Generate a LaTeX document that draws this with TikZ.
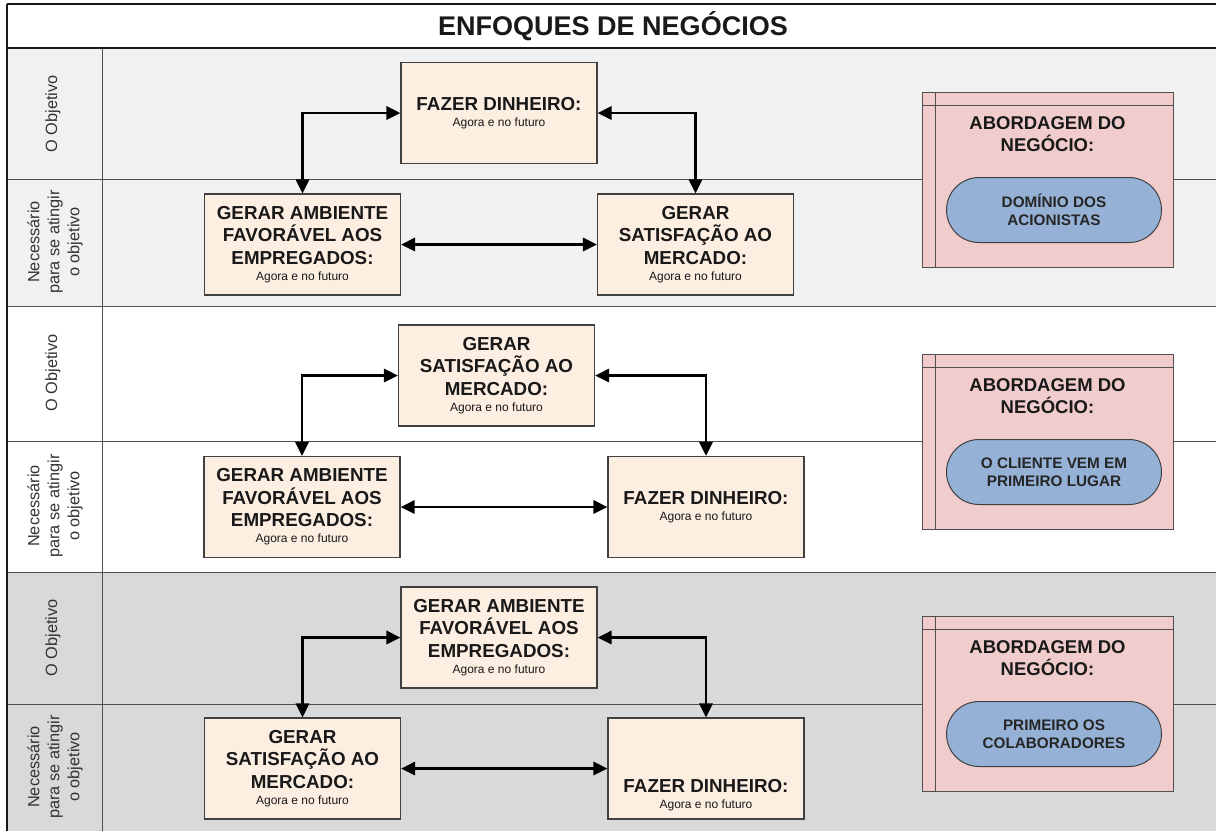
\documentclass[tikz,border=0pt]{standalone}
\usepackage{fontspec}
\setmainfont{Liberation Sans}
\usetikzlibrary{arrows.meta,shapes.misc}
\definecolor{bandA}{RGB}{241,241,241}
\definecolor{bandC}{RGB}{217,217,217}
\definecolor{boxfill}{RGB}{253,238,226}
\definecolor{boxline}{RGB}{64,64,64}
\definecolor{panelfill}{RGB}{240,205,204}
\definecolor{pillfill}{RGB}{149,177,214}
\definecolor{divline}{RGB}{80,80,80}
\newcommand\agoratxt{{\fontsize{12}{14}\selectfont\mdseries Agora e no futuro}}
\begin{document}
\begin{tikzpicture}[x=1pt,y=-1pt,
  bizbox/.style={draw=boxline,line width=1.1pt,fill=boxfill,minimum width=196pt,minimum height=101pt,inner sep=0pt,align=center,font=\bfseries\fontsize{18.8}{22.5}\selectfont,text=black!90},
  boxtext/.style={inner sep=0pt,align=center,font=\bfseries\fontsize{18.8}{22.5}\selectfont,text=black!90},
  arr/.style={line width=2.8pt,{Triangle[length=14pt,width=13pt]}-{Triangle[length=14pt,width=13pt]}},
  panel/.style={draw=divline,line width=1pt,fill=panelfill,minimum width=251pt,minimum height=175pt,inner sep=0pt},
  ptitle/.style={align=center,inner sep=0pt,font=\bfseries\fontsize{18.5}{22}\selectfont,text=black!90},
  pill/.style={rounded rectangle,draw=boxline,line width=1pt,fill=pillfill,minimum width=215pt,minimum height=65pt,inner sep=0pt,align=center,font=\bfseries\fontsize{15.3}{18}\selectfont,text=black!85},
  lbl/.style={rotate=90,align=center,inner sep=0pt,font=\fontsize{16.3}{20}\selectfont,text=black!80},
  divider/.style={draw=divline,line width=1pt},
  frame/.style={draw=black!90,line width=1.3pt}]
\useasboundingbox (0,0) rectangle (1216,831);
\clip (0,0) rectangle (1216,831);
% backgrounds
\fill[white] (0,0) rectangle (1216,831);
\fill[bandA] (7,48) rectangle (1216,306);
\fill[white] (7,306) rectangle (1216,572);
\fill[bandC] (7,572) rectangle (1216,831);
% grid lines
\foreach \yy in {179,306,441,572,704} \draw[divider] (7,\yy) -- (1216,\yy);
\draw[divider] (102,48) -- (102,831);
\draw[frame] (7,4) -- (1216,4);
\draw[frame] (7,4) -- (7,831);
\draw[frame] (7,48) -- (1216,48);
% title
\node[font=\bfseries\fontsize{27}{32}\selectfont,text=black!90] (title) at (613,26) {ENFOQUES DE NEGÓCIOS};
% left labels
\node[lbl] (o1) at (53,114) {O Objetivo};
\node[lbl] (n1) at (55,242) {Necessário\\para se atingir\\o objetivo};
\node[lbl] (o2) at (53,373) {O Objetivo};
\node[lbl] (n2) at (55,506) {Necessário\\para se atingir\\o objetivo};
\node[lbl] (o3) at (53,638) {O Objetivo};
\node[lbl] (n3) at (55,767) {Necessário\\para se atingir\\o objetivo};
% band 1
\node[bizbox] (b1t) at (499,113) {FAZER DINHEIRO:\\[-6.5pt]\agoratxt};
\node[bizbox] (b1l) at (302.5,244.5) {GERAR AMBIENTE\\FAVORÁVEL AOS\\EMPREGADOS:\\[-6.5pt]\agoratxt};
\node[bizbox] (b1r) at (695.5,244.5) {GERAR\\SATISFAÇÃO AO\\MERCADO:\\[-6.5pt]\agoratxt};
\draw[arr] (b1l.north) |- (b1t.west);
\draw[arr] (b1r.north) |- (b1t.east);
\draw[arr] (b1l.east) -- (b1r.west);
% band 2
\node[bizbox] (b2t) at (496.5,375.5) {GERAR\\SATISFAÇÃO AO\\MERCADO:\\[-6.5pt]\agoratxt};
\node[bizbox] (b2l) at (302,507) {GERAR AMBIENTE\\FAVORÁVEL AOS\\EMPREGADOS:\\[-6.5pt]\agoratxt};
\node[bizbox] (b2r) at (706,507) {FAZER DINHEIRO:\\[-6.5pt]\agoratxt};
\draw[arr] (b2l.north) |- (b2t.west);
\draw[arr] (b2r.north) |- (b2t.east);
\draw[arr] (b2l.east) -- (b2r.west);
% band 3
\node[bizbox] (b3t) at (499,637.5) {GERAR AMBIENTE\\FAVORÁVEL AOS\\EMPREGADOS:\\[-6.5pt]\agoratxt};
\node[bizbox] (b3l) at (302.5,768.5) {GERAR\\SATISFAÇÃO AO\\MERCADO:\\[-6.5pt]\agoratxt};
\node[bizbox] (b3r) at (706,768.5) {};
\node[boxtext] (b3rt) at (706,795) {FAZER DINHEIRO:\\[-6.5pt]\agoratxt};
\draw[arr] (b3l.north) |- (b3t.west);
\draw[arr] (b3r.north) |- (b3t.east);
\draw[arr] (b3l.east) -- (b3r.west);
% panels
\foreach \pn/\top/\pilltxt in {p1/92/{DOMÍNIO DOS\\ACIONISTAS},p2/354/{O CLIENTE VEM EM\\PRIMEIRO LUGAR},p3/616/{PRIMEIRO OS\\COLABORADORES}} {
  \node[panel] (\pn) at (1047.5,\top+87.5) {};
  \draw[draw=divline,line width=1pt] (935,\top) -- (935,\top+175);
  \draw[draw=divline,line width=1pt] (922,\top+13) -- (1173,\top+13);
  \node[ptitle] (\pn t) at (1047.5,\top+42) {ABORDAGEM DO\\NEGÓCIO:};
  \node[pill] (\pn p) at (1054,\top+118) {\pilltxt};
}
\end{tikzpicture}
\end{document}
